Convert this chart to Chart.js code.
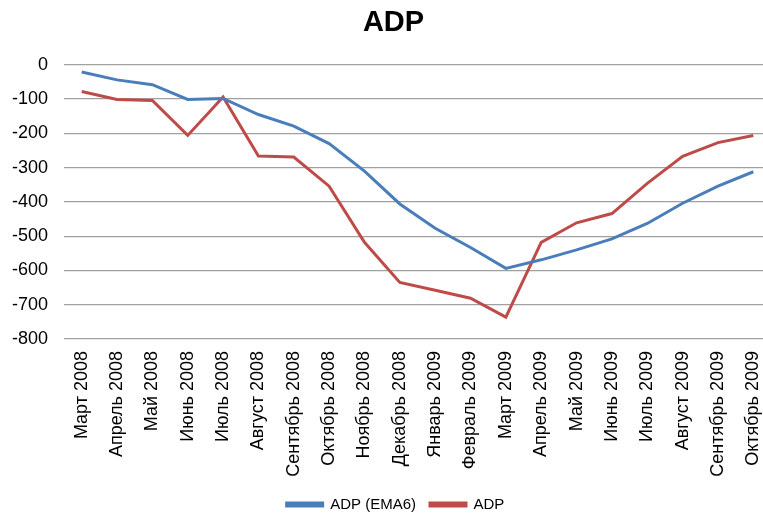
<!DOCTYPE html>
<html>
<head>
<meta charset="utf-8">
<script src="https://cdn.jsdelivr.net/npm/chart.js@4.4.0/dist/chart.umd.min.js"></script>
<style>
    html, body { margin: 0; padding: 0; background: #fff; overflow: hidden; }
    canvas { display: block; }
</style>
</head>
<body>
<canvas id="adpChart" width="772" height="514"></canvas>
<script>
const months = [
    'Март 2008', 'Апрель 2008', 'Май 2008', 'Июнь 2008', 'Июль 2008',
    'Август 2008', 'Сентябрь 2008', 'Октябрь 2008', 'Ноябрь 2008', 'Декабрь 2008',
    'Январь 2009', 'Февраль 2009', 'Март 2009', 'Апрель 2009', 'Май 2009',
    'Июнь 2009', 'Июль 2009', 'Август 2009', 'Сентябрь 2009', 'Октябрь 2009'
];

// smoothed series
const adpEma6 = [-21, -44, -58, -101, -98, -145, -179, -230, -310, -406,
    -477, -533, -594, -569, -540, -508, -463, -404, -354, -312];

// raw monthly change
const adp = [-78, -101, -104, -206, -94, -266, -269, -354, -518, -635,
    -658, -681, -736, -518, -461, -434, -346, -267, -227, -206];

const yTicks = [0, -100, -200, -300, -400, -500, -600, -700, -800];

const blue = '#4a7ebb';
const red = '#be4b48';
const fontFamily = '"Liberation Sans", Arial, sans-serif';

// legend box is a bit tall by default, trim it so it sits lower;
// also nudge title and legend right a little like the original
const layoutTweaks = {
    id: 'layoutTweaks',
    beforeLayout: (chart) => {
        const legend = chart.legend;
        if (legend && !legend._patched) {
            const fit = legend.fit;
            legend.fit = function () {
                fit.call(this);
                this.height = 31;
            };
            legend._patched = true;
        }
    },
    afterLayout: (chart) => {
        if (chart.titleBlock) {
            chart.titleBlock.left += 8;
            chart.titleBlock.right += 8;
        }
        if (chart.legend) {
            chart.legend.left += 10;
            chart.legend.right += 10;
        }
    },
};

const ctx = document.getElementById('adpChart').getContext('2d');
new Chart(ctx, {
    type: 'line',
    data: {
        labels: months,
        datasets: [
            {
                label: 'ADP (EMA6)',
                data: adpEma6,
                borderColor: blue,
                backgroundColor: blue,
                borderWidth: 3,
                pointRadius: 0,
                tension: 0,
            },
            {
                label: 'ADP',
                data: adp,
                borderColor: red,
                backgroundColor: red,
                borderWidth: 3,
                pointRadius: 0,
                tension: 0,
            },
        ],
    },
    options: {
        responsive: false,
        animation: false,
        layout: { padding: { left: 0, right: 1, top: 0, bottom: 0 } },
        plugins: {
            title: {
                display: true,
                text: 'ADP',
                color: '#000',
                font: { family: fontFamily, size: 29, weight: 'bold' },
                padding: { top: 6, bottom: 24 },
            },
            legend: {
                position: 'bottom',
                labels: {
                    color: '#000',
                    font: { family: fontFamily, size: 15 },
                    boxWidth: 36,
                    boxHeight: 3,
                    padding: 14,
                },
            },
            tooltip: { enabled: false },
        },
        scales: {
            x: {
                offset: true,
                grid: { display: false, drawTicks: false },
                border: { display: false },
                ticks: {
                    color: '#000',
                    font: { family: fontFamily, size: 18 },
                    minRotation: 90,
                    maxRotation: 90,
                    autoSkip: false,
                    padding: 12,
                },
                afterFit: (scale) => {
                    scale.height = 144;
                    scale.paddingLeft = 0;
                    scale.paddingRight = 0;
                },
            },
            y: {
                min: -800,
                max: 0,
                afterBuildTicks: (scale) => {
                    scale.ticks = yTicks.map((v) => ({ value: v }));
                },
                grid: { color: '#a0a0a0', lineWidth: 1.3, drawTicks: false },
                border: { display: false },
                ticks: {
                    color: '#000',
                    font: { family: fontFamily, size: 18 },
                    padding: 16,
                },
                afterFit: (scale) => { scale.width = 64; },
            },
        },
    },
    plugins: [layoutTweaks],
});
</script>
</body>
</html>
